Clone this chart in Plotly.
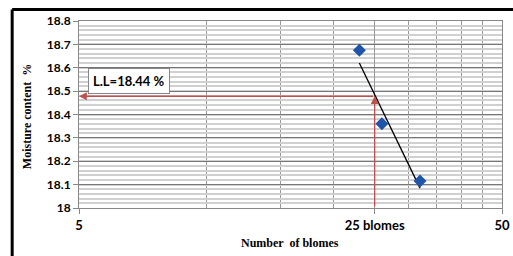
import numpy as np
import plotly.graph_objects as go

# Data
blows = [23, 26, 32]
moisture = [18.675, 18.36, 18.115]
trend_x = [23, 32]
trend_y = [18.62, 18.085]
ll_x = 25
ll_y = 18.478
ll_label = "L.L=18.44 %"
x_tickvals = [5, 25, 50]
x_ticktext = ["5", "25 blomes", "50"]
x_grid = [10, 15, 20, 30, 35, 40, 45]
y_tickvals = [18, 18.1, 18.2, 18.3, 18.4, 18.5, 18.6, 18.7, 18.8]
y_ticktext = ["18", "18.1", "18.2", "18.3", "18.4", "18.5", "18.6", "18.7", "18.8"]

RED = "#C0504D"

fig = go.Figure()
fig.add_trace(go.Scatter(x=trend_x, y=trend_y, mode="lines",
                         line=dict(color="#000000", width=1.3), showlegend=False))
fig.add_trace(go.Scatter(x=blows, y=moisture, mode="markers",
                         marker=dict(symbol="diamond", size=10, color="#1F55A8"),
                         showlegend=False))

fig.update_layout(
    width=513, height=256,
    margin=dict(l=79, r=11, t=21, b=48),
    paper_bgcolor="white", plot_bgcolor="white",
    xaxis=dict(type="log", range=[np.log10(5), np.log10(50)],
               automargin=False,
               tickmode="array", tickvals=x_tickvals,
               ticktext=["<b>" + t + "</b>" for t in x_ticktext],
               tickfont=dict(family="Lato", size=13, color="#000000"),
               ticks="outside", ticklen=5, tickcolor="#888888",
               showgrid=True, gridcolor="#999999", gridwidth=1,
               showline=True, linecolor="#888888", linewidth=1, mirror=True,
               minor=dict(tickmode="array", tickvals=x_grid, showgrid=True,
                          gridcolor="#999999", gridwidth=1, ticks=""),
               zeroline=False),
    yaxis=dict(range=[18, 18.8], tickmode="array", tickvals=y_tickvals,
               automargin=False,
               ticktext=["<b>" + t + "</b>" for t in y_ticktext],
               tickfont=dict(family="Lato", size=12, color="#000000"),
               ticks="outside", ticklen=5, tickcolor="#888888",
               showgrid=True, gridcolor="#777777", gridwidth=1,
               showline=True, linecolor="#888888", linewidth=1, mirror=True,
               minor=dict(dtick=0.02, showgrid=True, gridcolor="#D0D0D0",
                          gridwidth=2, ticks=""),
               zeroline=False),
)

# Red arrows
fig.add_annotation(x=np.log10(ll_x), y=ll_y, ax=np.log10(ll_x), ay=18.0,
                   xref="x", yref="y", axref="x", ayref="y", text="",
                   showarrow=True, arrowhead=2, arrowsize=1.2, arrowwidth=1.3,
                   arrowcolor=RED)
fig.add_annotation(x=np.log10(5), y=ll_y, ax=np.log10(ll_x), ay=ll_y,
                   xref="x", yref="y", axref="x", ayref="y", text="",
                   showarrow=True, arrowhead=2, arrowsize=1.2, arrowwidth=1.3,
                   arrowcolor=RED)

# Label box
fig.add_annotation(x=np.log10(6.55), y=18.545, xref="x", yref="y",
                   text="<b>" + ll_label + "</b>", showarrow=False,
                   xanchor="center", yanchor="middle",
                   font=dict(family="Lato", size=13, color="#000000"),
                   bgcolor="white", bordercolor="#888888", borderwidth=1,
                   borderpad=4)

# Axis titles
fig.add_annotation(x=-0.121, y=0.49, xref="paper", yref="paper",
                   xanchor="center", yanchor="middle",
                   text="<b>Moisture content  %</b>", textangle=-90,
                   showarrow=False,
                   font=dict(family="Liberation Serif", size=12, color="#000000"))
fig.add_annotation(x=0.499, y=-0.185, xref="paper", yref="paper",
                   xanchor="center", yanchor="middle",
                   text="<b>Number  of blomes</b>", showarrow=False,
                   font=dict(family="Liberation Serif", size=12, color="#000000"))

# Outer frame (left and top edges visible)
fig.add_shape(type="line", xref="paper", yref="paper", x0=-0.158, x1=-0.158,
              y0=-0.4, y1=1.062, line=dict(color="#000000", width=3))
fig.add_shape(type="line", xref="paper", yref="paper", x0=-0.158, x1=1.1,
              y0=1.062, y1=1.062, line=dict(color="#000000", width=3))

fig.write_html("out.html", config={"displayModeBar": False},
               post_script="document.body.style.margin='0';")
